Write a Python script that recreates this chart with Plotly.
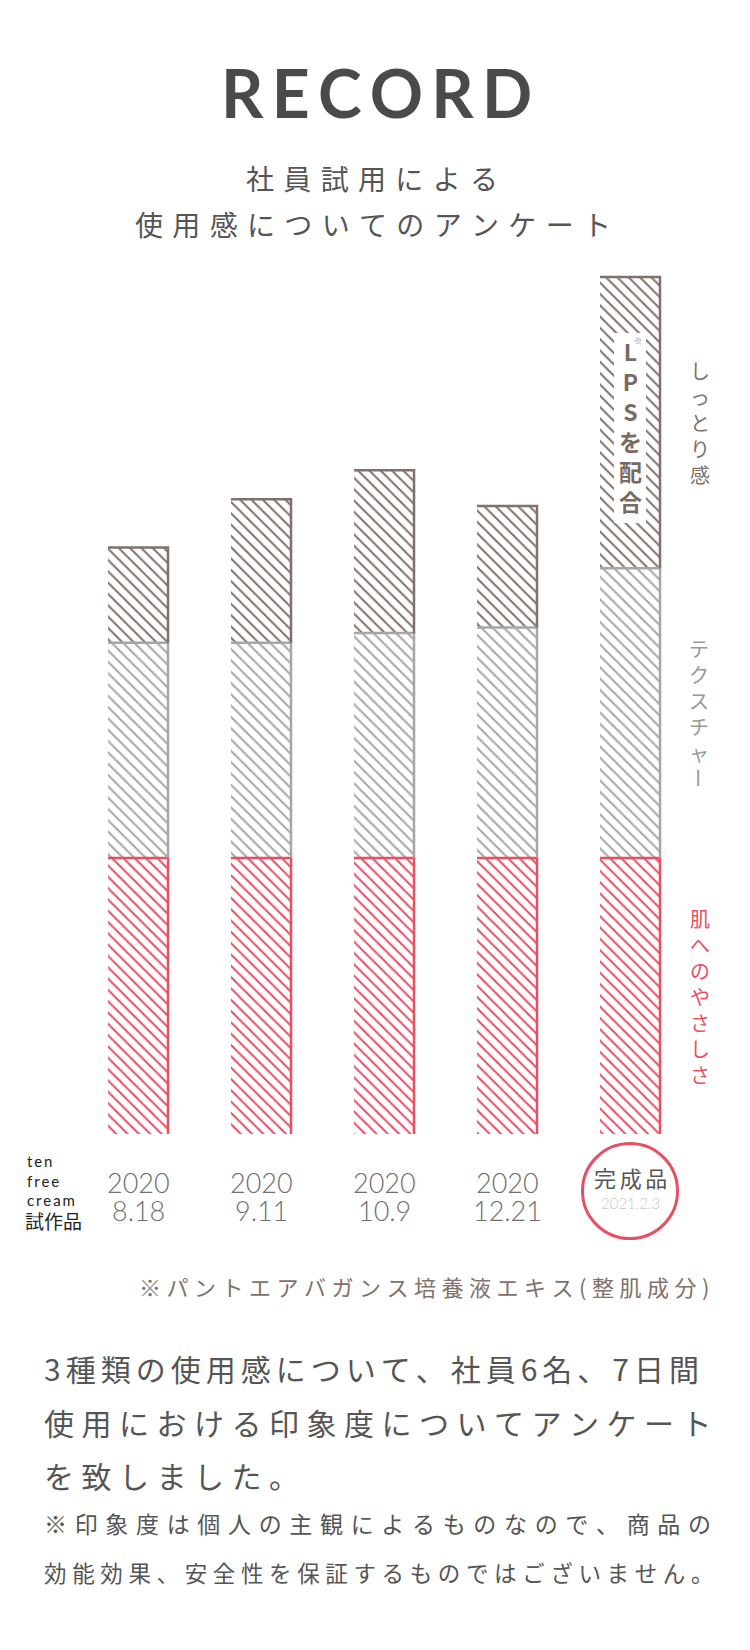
import plotly.graph_objects as go

# ---------------------------------------------------
# DATA
# ---------------------------------------------------

positions = [0, 1, 2, 3, 4]
years = ["2020", "2020", "2020", "2020"]
days = ["8.18", "9.11", "10.9", "12.21"]
final_label = "完成品"
final_date = "2021.2.3"

skin = [10.0, 10.0, 10.0, 10.0, 10.0]        # 肌へのやさしさ
texture = [7.8, 7.8, 8.15, 8.35, 10.5]       # テクスチャー
moist = [3.45, 5.2, 5.9, 4.4, 10.55]         # しっとり感

# ---------------------------------------------------
# STYLE
# ---------------------------------------------------

OFF = 8                 # default body margin of the html page
W, H = 750 - OFF, 1650 - OFF
PX_UNIT = 27.6          # pixels per data unit
BOTTOM = 1134           # pixel row of the bar base
BAR_W = 0.488

RED = "#e84e64"
GRAY = "#a6a6a6"
TAN = "#80716a"
TEXT = "#555555"
JP = "Noto Sans CJK JP"


def px(x):
    return (x - OFF) / W


def py(y):
    return 1 - (y - OFF) / H


def spaced(s, sp):
    return sp.join(s)


def vert(s):
    return "<br>".join(s)


fig = go.Figure()

segments = [
    ("肌へのやさしさ", skin, RED),
    ("テクスチャー", texture, GRAY),
    ("しっとり感", moist, TAN),
]

# ------------------------------------------------
# HATCHED BARS
# ------------------------------------------------

for name, vals, col in segments:
    fig.add_trace(
        go.Bar(
            x=positions,
            y=vals,
            width=BAR_W,
            name=name,
            marker=dict(
                color="white",
                line=dict(width=0),
                pattern=dict(
                    shape="\\",
                    fgcolor=col,
                    bgcolor="white",
                    fgopacity=1,
                    size=8,
                    solidity=0.25,
                    fillmode="overlay",
                ),
            ),
            showlegend=False,
            hoverinfo="skip",
        )
    )

# ------------------------------------------------
# TOP + RIGHT EDGES
# ------------------------------------------------

bases = [0.0] * len(positions)
seg_centers = {}
for name, vals, col in segments:
    xs, ys = [], []
    for i, v in enumerate(vals):
        b = bases[i]
        t = b + v
        xs += [positions[i] - BAR_W / 2, positions[i] + BAR_W / 2, positions[i] + BAR_W / 2, None]
        ys += [t, t, b, None]
    seg_centers[name] = bases[-1] + vals[-1] / 2
    bases = [bases[i] + vals[i] for i in range(len(vals))]
    fig.add_trace(
        go.Scatter(
            x=xs, y=ys, mode="lines",
            line=dict(color=col, width=2.5),
            showlegend=False, hoverinfo="skip",
        )
    )

ann = []

# title
ann.append(dict(x=px(376), y=py(93), text=spaced("RECORD", "\u2009"),
                font=dict(family="Lato", size=66, color="#4a4a4a", weight=700)))
ann.append(dict(x=px(372), y=py(178), text=spaced("社員試用による", "\u2004"),
                font=dict(family=JP, size=28, color=TEXT)))
ann.append(dict(x=px(373), y=py(224), text=spaced("使用感についてのアンケート", "\u2004"),
                font=dict(family=JP, size=28, color=TEXT)))

# right side vertical labels
lab_font = 20
pitch = lab_font * 1.3
ann.append(dict(x=px(700), xref="paper", y=seg_centers["しっとり感"], yref="y",
                text=vert("しっとり感"), font=dict(family=JP, size=lab_font, color=TAN)))
ann.append(dict(x=px(699), xref="paper", y=seg_centers["テクスチャー"], yref="y",
                yshift=pitch / 2, text=vert("テクスチャ"),
                font=dict(family=JP, size=lab_font, color="#999999")))
ann.append(dict(x=px(699), xref="paper", y=seg_centers["テクスチャー"], yref="y",
                yshift=-pitch * 2.5, text="ー", textangle=90,
                font=dict(family=JP, size=lab_font, color="#999999")))
ann.append(dict(x=px(700), xref="paper", y=seg_centers["肌へのやさしさ"], yref="y",
                text=vert("肌へのやさしさ"), font=dict(family=JP, size=lab_font, color=RED)))

# LPS box text
ann.append(dict(x=4, xref="x", y=py(426), text=vert("LPSを配合"),
                font=dict(family=JP, size=23, color="#7a6a60", weight=700)))
ann.append(dict(x=4, xref="x", xshift=8, y=py(340), text="※",
                font=dict(family=JP, size=8, color=TAN)))

# x labels
for i, (yr, d) in enumerate(zip(years, days)):
    ann.append(dict(x=positions[i], xref="x", y=py(1182), text=yr,
                    font=dict(family="Lato", size=27, color="#707070", weight=300)))
    ann.append(dict(x=positions[i], xref="x", y=py(1210), text=d,
                    font=dict(family="Lato", size=27, color="#707070", weight=300)))

ann.append(dict(x=positions[4], xref="x", y=py(1177), text=spaced(final_label, "\u2006"),
                font=dict(family=JP, size=22, color="#555555")))
ann.append(dict(x=positions[4], xref="x", y=py(1203), text=final_date,
                font=dict(family="Lato", size=15, color="#c8c8c8", weight=300)))

# left label
ann.append(dict(x=px(25), y=py(1180), xanchor="left",
                text="<br>".join(spaced(t, "\u2009") for t in ["ten", "free", "cream"]),
                align="left", font=dict(family="Lato", size=15, color="#222222")))
ann.append(dict(x=px(23), y=py(1220), xanchor="left", text="試作品",
                font=dict(family=JP, size=19, color="#222222")))

# footnote
ann.append(dict(x=px(711), y=py(1286), xanchor="right",
                text=spaced("※パントエアバガンス培養液エキス(整肌成分)", "\u2005"),
                font=dict(family=JP, size=22, color=TAN)))

# paragraph
para = [
    ("3種類の使用感について、社員6名、7日間", 1368, 30, "\u2006"),
    ("使用における印象度についてアンケート", 1422, 30, "\u2005"),
    ("を致しました。", 1475, 30, "\u2005"),
    ("※印象度は個人の主観によるものなので、商品の", 1523, 23, "\u2004"),
    ("効能効果、安全性を保証するものではございません。", 1572, 22.5, "\u2005"),
]
for txt, yy, sz, sp in para:
    ann.append(dict(x=px(42), y=py(yy), xanchor="left", text=spaced(txt, sp),
                    font=dict(family=JP, size=sz, color=TEXT)))

for a in ann:
    a.setdefault("xref", "paper")
    a.setdefault("yref", "paper")
    a.setdefault("showarrow", False)
    a.setdefault("xanchor", "center")
    a.setdefault("yanchor", "middle")

shapes = [
    # white box behind LPS text
    dict(type="rect", xref="x", xsizemode="pixel", xanchor=4, x0=-16, x1=16,
         yref="paper", y0=py(523), y1=py(333),
         fillcolor="white", line=dict(width=0), layer="above"),
    # circle around final label
    dict(type="circle", xref="x", xsizemode="pixel", xanchor=4, x0=-47.5, x1=47.5,
         yref="paper", y0=py(1238.5), y1=py(1143.5),
         line=dict(color=RED, width=3), fillcolor="rgba(0,0,0,0)"),
]

# ------------------------------------------------
# LAYOUT
# ------------------------------------------------

fig.update_layout(
    width=W,
    height=H,
    barmode="stack",
    bargap=0,
    paper_bgcolor="white",
    plot_bgcolor="white",
    margin=dict(l=0, r=0, t=0, b=0),
    annotations=ann,
    shapes=shapes,
    xaxis=dict(range=[-0.5, 4.5], domain=[px(76.5), px(691.5)], visible=False),
    yaxis=dict(range=[0, (BOTTOM - OFF) / PX_UNIT], domain=[py(BOTTOM), 1], visible=False),
)

fig.write_html("out.html")
